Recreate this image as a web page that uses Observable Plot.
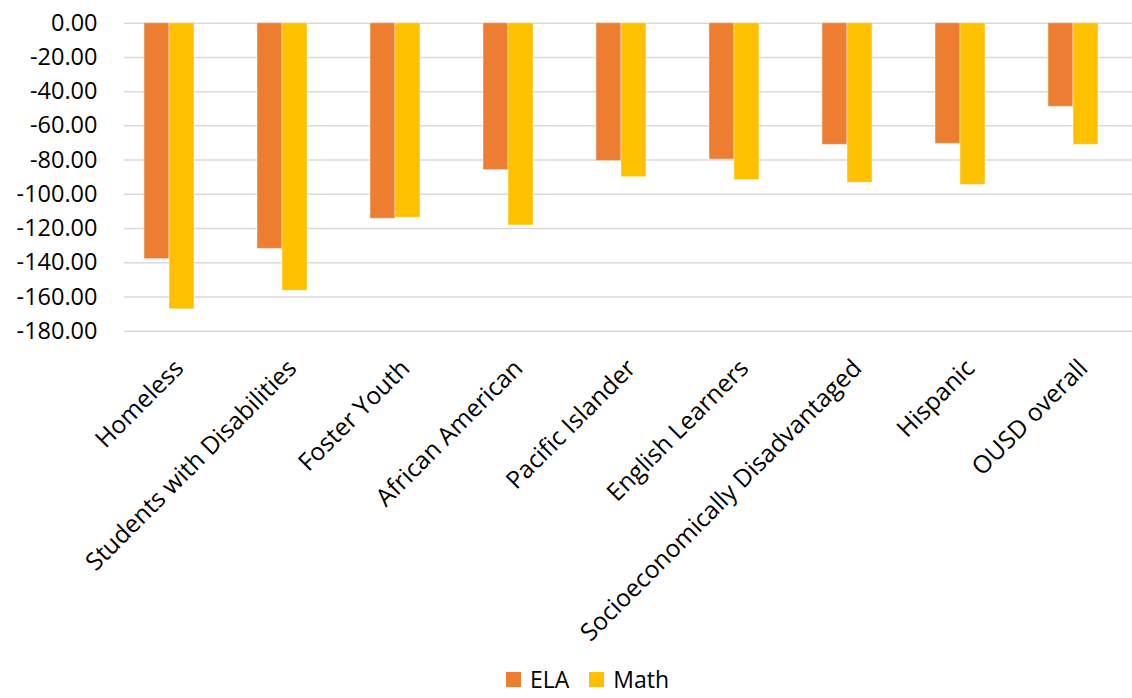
<!DOCTYPE html>
<html>
<head>
<meta charset="utf-8">
<script src="https://cdn.jsdelivr.net/npm/d3@7"></script>
<script src="https://cdn.jsdelivr.net/npm/@observablehq/plot@0.6"></script>
<style>
  html, body { margin: 0; padding: 0; background: #fff; overflow: hidden; }
  #wrap { position: relative; width: 1132px; height: 698px; font-family: "Open Sans", sans-serif; }
  #legend { position: absolute; left: 506px; top: 664px; display: flex; align-items: center; font-size: 23px; color: #000; line-height: 30px; }
  #legend .sw { display: inline-block; width: 15px; height: 15px; margin-right: 9px; }
  #legend .item { display: flex; align-items: center; margin-right: 20px; }
</style>
</head>
<body>
<div id="wrap"><div id="chart"></div><div id="legend"></div></div>
<script>
const categories = ["Homeless", "Students with Disabilities", "Foster Youth", "African American", "Pacific Islander", "English Learners", "Socioeconomically Disadvantaged", "Hispanic", "OUSD overall"];
const elaValues = [-137.9, -131.9, -114.3, -85.9, -80.6, -79.7, -71.1, -70.5, -48.9];
const mathValues = [-167.2, -156.4, -113.7, -118.2, -90.0, -91.7, -93.3, -94.5, -71.1];
const subjects = ["ELA", "Math"];
const subjectColors = ["#ED7D31", "#FFC000"];
const yTicks = [0, -20, -40, -60, -80, -100, -120, -140, -160, -180];

const ela = categories.map((c, i) => ({category: c, subject: "ELA", value: elaValues[i]}));
const math = categories.map((c, i) => ({category: c, subject: "Math", value: mathValues[i]}));

const chart = Plot.plot({
  width: 1132,
  height: 660,
  marginLeft: 124,
  marginRight: 0,
  marginTop: 22.7,
  marginBottom: 329.3,
  style: {fontFamily: "Open Sans, sans-serif", fontSize: "24px", color: "#000", background: "#fff"},
  x: {domain: categories, range: [111.3, 1131.1], paddingInner: 0.559, paddingOuter: 0.2795, label: null},
  y: {domain: [-180, 0], label: null},
  color: {domain: subjects, range: subjectColors},
  marks: [
    Plot.gridY(yTicks, {stroke: "#d9d9d9", strokeOpacity: 1, strokeWidth: 1.5}),
    Plot.barY(ela, {x: "category", y1: 0, y2: "value", fill: d => d.subject, insetRight: 25, stroke: "#fff", strokeOpacity: 0.45, strokeWidth: 1}),
    Plot.barY(math, {x: "category", y1: 0, y2: "value", fill: d => d.subject, insetLeft: 25, stroke: "#fff", strokeOpacity: 0.45, strokeWidth: 1}),
    Plot.axisY(yTicks, {tickSize: 0, tickPadding: 27, tickFormat: d => d.toFixed(2), fontSize: 23.5, label: null, fill: "#000"}),
    Plot.axisX({tickSize: 0, tickRotate: -45, tickPadding: 14, dx: 10, dy: 19, fontSize: 24.5, label: null, fill: "#000"})
  ]
});
document.getElementById("chart").appendChild(chart);

const legend = document.getElementById("legend");
subjects.forEach((s, i) => {
  const item = document.createElement("div");
  item.className = "item";
  const sw = document.createElement("span");
  sw.className = "sw";
  sw.style.background = subjectColors[i];
  item.appendChild(sw);
  item.appendChild(document.createTextNode(s));
  legend.appendChild(item);
});
</script>
</body>
</html>
